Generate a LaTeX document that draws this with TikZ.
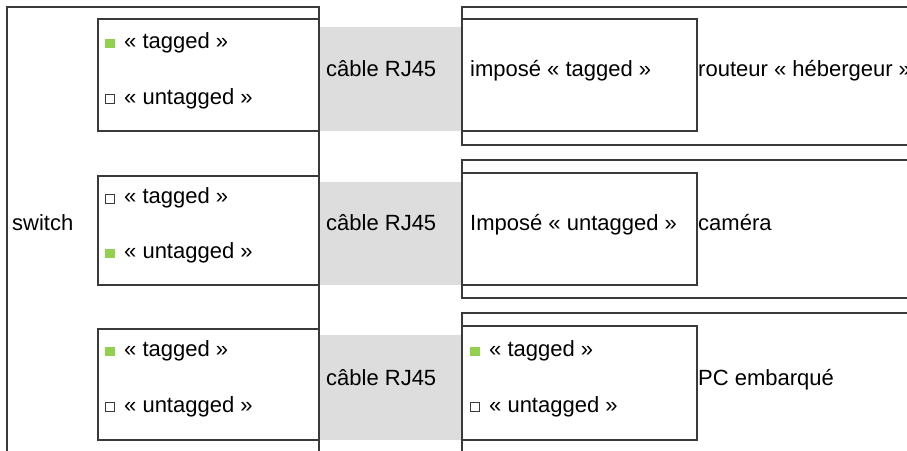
\documentclass[tikz,border=0pt]{standalone}
\usepackage{fontspec}
\setmainfont{Liberation Sans}
\definecolor{lineink}{HTML}{3A3A3A}
\definecolor{cablegray}{HTML}{DDDDDD}
\definecolor{taggreen}{HTML}{92D050}
\begin{document}
\begin{tikzpicture}[x=1pt,y=-1pt,
  frame/.style={draw=lineink, line width=1.1pt},
  cable/.style={fill=cablegray, draw=none},
  lbl/.style={anchor=base west, inner sep=0pt, font=\fontsize{22}{26}\selectfont},
  onmark/.style={fill=taggreen},
  offmark/.style={draw=lineink, line width=0.6pt, fill=white}]
\useasboundingbox (0,0) rectangle (907,450);
\clip (0,0) rectangle (907,450);

% cable bands between the switch and each device
\fill[cable] (319,27) rectangle (462,131);
\fill[cable] (319,182) rectangle (462,285);
\fill[cable] (319,335) rectangle (462,440);

% switch enclosure (open at the bottom)
\draw[frame] (7,460) -- (7,7) -- (319,7) -- (319,460);

% switch ports
\draw[frame] (319,19) -- (98,19) -- (98,131) -- (319,131);
\draw[frame] (319,176) -- (98,176) -- (98,285) -- (319,285);
\draw[frame] (319,329) -- (98,329) -- (98,440) -- (319,440);

% device enclosures (open on the right)
\draw[frame] (920,7) -- (462,7) -- (462,145) -- (920,145);
\draw[frame] (920,160) -- (462,160) -- (462,298) -- (920,298);
\draw[frame] (920,313) -- (462,313) -- (462,460);

% device ports
\draw[frame] (462,19) rectangle (697,131);
\draw[frame] (462,173) rectangle (697,285);
\draw[frame] (462,326) rectangle (697,440);

% port state marks on the switch side
\fill[onmark] (105,39) rectangle (115,48);
\draw[offmark] (105.5,94.5) rectangle (114.5,103.5);
\draw[offmark] (105.5,194.5) rectangle (114.5,203.5);
\fill[onmark] (105,249) rectangle (115,258);
\fill[onmark] (105,347) rectangle (115,356);
\draw[offmark] (105.5,402.5) rectangle (114.5,411.5);

% port state marks on the PC side
\fill[onmark] (470,347) rectangle (480,356);
\draw[offmark] (470.5,402.5) rectangle (479.5,411.5);

% labels
\node[lbl] (sw) at (12,230) {switch};

\node[lbl] (p1t) at (124,48) {« tagged »};
\node[lbl] (p1u) at (124,104) {« untagged »};
\node[lbl] (p2t) at (124,203) {« tagged »};
\node[lbl] (p2u) at (124,258) {« untagged »};
\node[lbl] (p3t) at (124,356) {« tagged »};
\node[lbl] (p3u) at (124,412) {« untagged »};

\node[lbl] (c1) at (326,76) {câble RJ45};
\node[lbl] (c2) at (326,230) {câble RJ45};
\node[lbl] (c3) at (326,385) {câble RJ45};

\node[lbl] (d1p) at (470,76) {imposé « tagged »};
\node[lbl] (d2p) at (470,230) {Imposé « untagged »};
\node[lbl] (d3t) at (489,356) {« tagged »};
\node[lbl] (d3u) at (489,412) {« untagged »};

\node[lbl] (d1) at (698,76) {routeur « hébergeur »};
\node[lbl] (d2) at (698,230) {caméra};
\node[lbl] (d3) at (698,385) {PC embarqué};
\end{tikzpicture}
\end{document}
